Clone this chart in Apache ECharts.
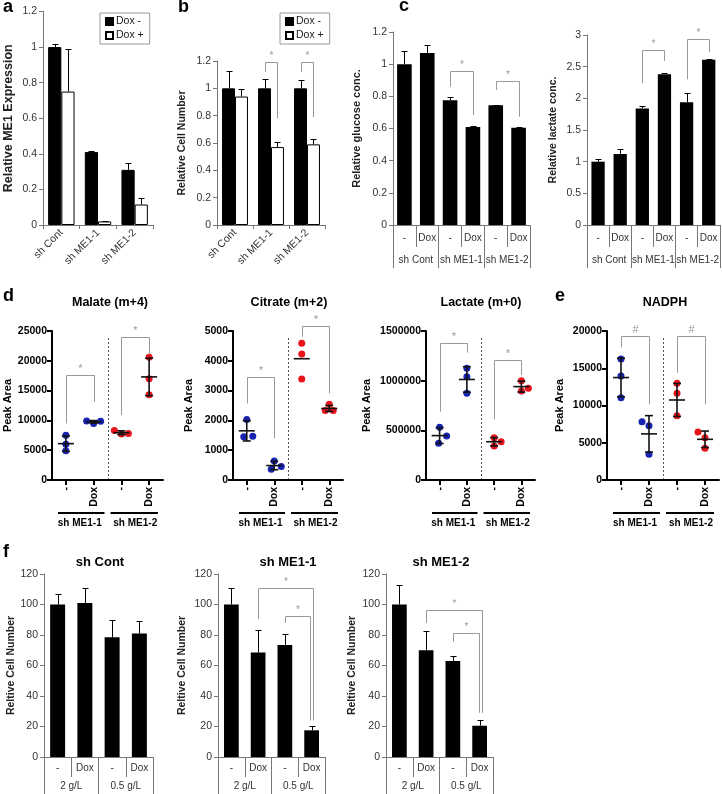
<!DOCTYPE html>
<html><head><meta charset="utf-8">
<script src="https://cdn.jsdelivr.net/npm/echarts@6/dist/echarts.min.js"></script>
<style>html,body{margin:0;padding:0;background:#fff}#c{width:722px;height:794px}</style>
</head><body><div id="c"></div>
<script>
const F = "'Liberation Sans', Arial, Helvetica, sans-serif";

// ---------- DATA ----------
// Panel a
const abCats = ['sh Cont', 'sh ME1-1', 'sh ME1-2'];
const aDoxMinus = [1.0, 0.41, 0.31];
const aDoxMinusErr = [0.02, 0.005, 0.04];
const aDoxPlus = [0.75, 0.02, 0.115];
const aDoxPlusErr = [0.24, 0.005, 0.035];
// Panel b
const bDoxMinus = [1.0, 1.0, 1.0];
const bDoxMinusErr = [0.13, 0.065, 0.06];
const bDoxPlus = [0.94, 0.57, 0.59];
const bDoxPlusErr = [0.055, 0.04, 0.04];
const bBrackets = [[0.82, 1.18, 1.19, 1.12, 0.78], [1.82, 2.18, 1.19, 1.12, 0.79]];
const bBracketLabels = ['*', '*'];
// Panel c
const cTreat = ['-', 'Dox', '-', 'Dox', '-', 'Dox'];
const cGroups = ['sh Cont', 'sh ME1-1', 'sh ME1-2'];
const glucose = [1.0, 1.07, 0.775, 0.61, 0.745, 0.605];
const glucoseErr = [0.08, 0.05, 0.02, 0.004, 0.004, 0.004];
const glucoseBrackets = [[2, 3, 0.958, 0.86, 0.684], [4, 5, 0.895, 0.84, 0.673]];
const lactateConc = [1.0, 1.12, 1.84, 2.38, 1.94, 2.61];
const lactateConcErr = [0.04, 0.08, 0.04, 0.02, 0.14, 0.01];
const lactateConcBrackets = [[2, 3, 2.76, 2.24, 2.59], [4, 5, 2.93, 2.3, 2.73]];
const starLabels = ['*', '*'];
// Panels d, e
const dTreat = ['-', 'Dox', '-', 'Dox'];
const dGroups = ['sh ME1-1', 'sh ME1-2'];
const malatePts = [[7500, 6000, 4900], [9900, 9500, 9850], [8300, 7700, 7800], [20600, 17000, 14300]];
const malateMean = [6100, 9750, 7930, 17300];
const malateSD = [1300, 220, 320, 3150];
const malateBrackets = [[0, 1, 17600, 9500, 13100], [2, 3, 24000, 10900, 21200]];
const citratePts = [[2030, 1450, 1470], [640, 360, 450], [4590, 4230, 3390], [2540, 2330, 2330]];
const citrateMean = [1650, 485, 4070, 2400];
const citrateSD = [340, 140, 0, 100];
const citrateBrackets = [[0, 1, 3470, 2570, 1400], [2, 3, 5170, 4810, 2910]];
const lactatePts = [[530000, 443000, 369000], [1124000, 1040000, 873000], [426000, 386000, 342000], [1000000, 923000, 896000]];
const lactateMean = [447000, 1012000, 385000, 940000];
const lactateSD = [80000, 128000, 42000, 55000];
const lactateBrackets = [[0, 1, 1376000, 688000, 1282000], [2, 3, 1208000, 611000, 1057000]];
const nadphPts = [[16240, 13960, 11050], [7830, 7290, 3450], [12970, 11630, 8630], [6440, 5680, 4250]];
const nadphMean = [13750, 6190, 10740, 5460];
const nadphSD = [2600, 2450, 2220, 1110];
const nadphBrackets = [[0, 1, 19330, 17800, 10150], [2, 3, 19330, 14400, 10150]];
const hashLabels = ['#', '#'];
// Panel f
const fTreat = ['-', 'Dox', '-', 'Dox'];
const fConc = ['2 g/L', '0.5 g/L'];
const fCont = [100, 101, 78.5, 81];
const fContErr = [7, 9.5, 11.5, 8.5];
const fME11 = [100, 68.5, 73.5, 17.5];
const fME11Err = [10.5, 15, 7, 3];
const fME11Brackets = [[1, 3.05, 110.8, 90.5, 24], [2, 2.93, 92.4, 88, 24]];
const fME12 = [100, 70, 63, 20.5];
const fME12Err = [13, 12.5, 3.5, 4];
const fME12Brackets = [[1, 3.08, 96.4, 88, 29], [2, 2.98, 81.3, 75.4, 29]];

// ---------- STYLE (point jitter in px, colors) ----------
const malateJit = [[0,0,0],[-7,0,7],[-7,0,7],[0,0,0]];
const citrateJit = [[0,-3,6],[0,-3,7],[0,0,0],[0,-4,4]];
const lactateJit = [[0,7,-1],[0,0,0],[0,7,0],[0,7,0]];
const nadphJit = [[0,0,0],[-7,0,0],[0,0,0],[-7,0,0]];
const groupColors = ['#1622b0', '#1622b0', '#e8141c', '#e8141c'];
const gray = '#777', brk = '#999';

// ---------- BUILD ----------
const grids = [], xAxis = [], yAxis = [], series = [], graphic = [], legend = [];
function grid(l, t, w, h) { grids.push({left: l, top: t, width: w, height: h}); return grids.length - 1; }
function ax(arr, o) { arr.push(o); return arr.length - 1; }
const tickLbl = {fontFamily: F, fontSize: 10.5, color: '#333'};

function catPx(api, x) { const i = Math.round(x); return api.coord([i, 0])[0] + (x - i) * api.size([1, 0])[0]; }

function errSeries(xi, yi, vals, errs, off) {
  return {type: 'custom', xAxisIndex: xi, yAxisIndex: yi, silent: true, z: 4,
    data: vals.map((v, i) => [i, v, errs[i]]), encode: {x: 0, y: 1},
    renderItem: (p, api) => {
      const i = api.value(0), v = api.value(1), e = api.value(2);
      const bw = api.size([1, 0])[0];
      const x = Math.round(api.coord([i, 0])[0] + off * bw) + 0.5;
      const y0 = api.coord([i, v])[1], y1 = Math.round(api.coord([i, v + e])[1]) + 0.5;
      return {type: 'group', children: [
        {type: 'line', shape: {x1: x, y1: y0, x2: x, y2: y1}, style: {stroke: '#000', lineWidth: 1}},
        {type: 'line', shape: {x1: x - 3, y1: y1, x2: x + 3, y2: y1}, style: {stroke: '#000', lineWidth: 1}}]};
    }};
}
function bracketSeries(xi, yi, data, labels, color, fs) {
  return {type: 'custom', xAxisIndex: xi, yAxisIndex: yi, silent: true, z: 6, clip: false,
    data: data.map(d => [Math.round(d[0]), d[2]]), encode: {x: 0, y: 1},
    renderItem: (p, api) => {
      const d = data[p.dataIndex];
      const x1 = Math.round(catPx(api, d[0])) + 0.5, x2 = Math.round(catPx(api, d[1])) + 0.5;
      const yt = Math.round(api.coord([0, d[2]])[1]) + 0.5, y1 = api.coord([0, d[3]])[1], y2 = api.coord([0, d[4]])[1];
      return {type: 'group', children: [
        {type: 'polyline', shape: {points: [[x1, y1], [x1, yt], [x2, yt], [x2, y2]]}, style: {stroke: color, lineWidth: 1, fill: null}},
        {type: 'text', x: (x1 + x2) / 2, y: yt - 1, style: {text: labels[p.dataIndex], fill: color, fontSize: fs || 10, fontFamily: F,
          textAlign: 'center', align: 'center', textVerticalAlign: 'bottom', verticalAlign: 'bottom'}}]};
    }};
}
function meanSdSeries(xi, yi, mean, sd) {
  return {type: 'custom', xAxisIndex: xi, yAxisIndex: yi, silent: true, z: 5,
    data: mean.map((m, i) => [i, m, sd[i]]), encode: {x: 0, y: 1},
    renderItem: (p, api) => {
      const i = api.value(0), m = api.value(1), s = api.value(2);
      const c = api.coord([i, m]); const x = c[0], ym = c[1];
      const st = {stroke: '#111', lineWidth: 1.6};
      const ch = [{type: 'line', shape: {x1: x - 8, y1: ym, x2: x + 8, y2: ym}, style: st}];
      if (s > 0) {
        const yl = api.coord([i, m - s])[1], yh = api.coord([i, m + s])[1];
        ch.push({type: 'line', shape: {x1: x, y1: yl, x2: x, y2: yh}, style: st});
        ch.push({type: 'line', shape: {x1: x - 4, y1: yl, x2: x + 4, y2: yl}, style: st});
        ch.push({type: 'line', shape: {x1: x - 4, y1: yh, x2: x + 4, y2: yh}, style: st});
      }
      return {type: 'group', children: ch};
    }};
}
function pointsSeries(xi, yi, pts, jit) {
  const data = [];
  pts.forEach((g, i) => g.forEach((v, k) => data.push({value: [i, v], symbolOffset: [jit[i][k], 0], itemStyle: {color: groupColors[i], opacity: 1}})));
  return {type: 'scatter', xAxisIndex: xi, yAxisIndex: yi, silent: true, z: 3, symbolSize: 7, itemStyle: {opacity: 1}, data};
}
function barYAxis(gi, max, interval, name, gap, nameSize) {
  return ax(yAxis, {gridIndex: gi, type: 'value', min: 0, max, interval, name, nameLocation: 'middle', nameGap: gap,
    nameTextStyle: {fontFamily: F, fontSize: nameSize || 10.5, fontWeight: 'bold', color: '#222'},
    axisLine: {show: true, lineStyle: {color: gray}}, axisTick: {show: true, length: 4, lineStyle: {color: gray}},
    axisLabel: Object.assign({}, tickLbl, {margin: 6}), splitLine: {show: false}});
}
function multiX(gi, treat, groups, l1, m1, l2, m2) {
  const x1 = ax(xAxis, {gridIndex: gi, type: 'category', data: treat, axisLine: {show: true, lineStyle: {color: gray}},
    axisTick: {show: true, length: l1, interval: 0, alignWithLabel: false, lineStyle: {color: gray, width: 1}},
    axisLabel: Object.assign({}, tickLbl, {fontSize: 10, margin: m1, interval: 0})});
  ax(xAxis, {gridIndex: gi, type: 'category', data: groups, position: 'bottom', offset: l1,
    axisLine: {show: true, lineStyle: {color: 'rgba(0,0,0,0)'}},
    axisTick: {show: true, length: l2, interval: 0, alignWithLabel: false, lineStyle: {color: gray, width: 1}},
    axisLabel: Object.assign({}, tickLbl, {fontSize: 10, margin: m2, interval: 0})});
  return x1;
}
function scatterPanel(geo, max, interval, gap, title, titleX, pts, jit, mean, sd, brackets, blabels) {
  const gi = grid(geo[0], geo[1], geo[2], geo[3]);
  const xi = ax(xAxis, {gridIndex: gi, type: 'category', data: dTreat,
    axisLine: {show: true, lineStyle: {color: '#000', width: 2}},
    axisTick: {show: true, alignWithLabel: true, length: 5, lineStyle: {color: '#000', width: 2}},
    axisLabel: {rotate: 90, fontFamily: F, fontWeight: 'bold', fontSize: 10.5, color: '#000', margin: 7, interval: 0}});
  ax(xAxis, {gridIndex: gi, type: 'category', data: dGroups, position: 'bottom', offset: 33,
    axisLine: {show: false}, axisTick: {show: false},
    axisLabel: {fontFamily: F, fontWeight: 'bold', fontSize: 10, color: '#000', margin: 5, interval: 0}});
  const yi = ax(yAxis, {gridIndex: gi, type: 'value', min: 0, max, interval, name: 'Peak Area', nameLocation: 'middle', nameGap: gap,
    nameTextStyle: {fontFamily: F, fontSize: 11, fontWeight: 'bold', color: '#000'},
    axisLine: {show: true, lineStyle: {color: '#000', width: 2}},
    axisTick: {show: true, length: 5, lineStyle: {color: '#000', width: 2}},
    axisLabel: {fontFamily: F, fontWeight: 'bold', fontSize: 10.5, color: '#000', margin: 5, formatter: v => String(v)},
    splitLine: {show: false}});
  series.push(pointsSeries(xi, yi, pts, jit));
  series.push(meanSdSeries(xi, yi, mean, sd));
  series.push(bracketSeries(xi, yi, brackets, blabels, brk, 11));
  const [l, t, w, h] = geo;
  const mid = Math.round(l + w / 2) + 0.5;
  graphic.push({type: 'line', silent: true, shape: {x1: mid, y1: t + 7, x2: mid, y2: t + h}, style: {stroke: '#555', lineWidth: 1, lineDash: [2, 2]}});
  const gy = t + h + 33;
  graphic.push({type: 'line', silent: true, shape: {x1: l + 6, y1: gy, x2: l + w / 2 - 3, y2: gy}, style: {stroke: '#000', lineWidth: 2}});
  graphic.push({type: 'line', silent: true, shape: {x1: l + w / 2 + 3, y1: gy, x2: l + w - 5, y2: gy}, style: {stroke: '#000', lineWidth: 2}});
  graphic.push(txt(title, titleX, 303, 12.5));
}
function fPanel(geo, vals, errs, brackets, gap) {
  const gi = grid(geo[0], geo[1], geo[2], geo[3]);
  const xi = multiX(gi, fTreat, fConc, 20, 6, 17, 4);
  const yi = barYAxis(gi, 120, 20, 'Reltive Cell Number', gap);
  series.push({type: 'bar', xAxisIndex: xi, yAxisIndex: yi, data: vals, barWidth: '55%', itemStyle: {color: '#000'}, silent: true});
  series.push(errSeries(xi, yi, vals, errs, 0));
  if (brackets) series.push(bracketSeries(xi, yi, brackets, starLabels, brk, 10));
}
function txt(t, x, y, size, align) {
  return {type: 'text', x, y, silent: true, style: {text: t, fontFamily: F, fontSize: size, fontWeight: 'bold', fill: '#000',
    textAlign: align || 'center', align: align || 'center', textVerticalAlign: 'middle', verticalAlign: 'middle'}};
}
function abX(gi) {
  return ax(xAxis, {gridIndex: gi, type: 'category', data: abCats, axisLine: {show: true, lineStyle: {color: gray}},
    axisTick: {show: true, length: 4, interval: 0, alignWithLabel: false, lineStyle: {color: gray}},
    axisLabel: Object.assign({}, tickLbl, {rotate: 45, margin: 6, interval: 0})});
}

// Panel a
const gA = grid(43, 11.5, 110, 213.5);
const xA = abX(gA);
const yA = barYAxis(gA, 1.2, 0.2, 'Relative ME1 Expression', 28, 12.5);
series.push({type: 'bar', name: 'Dox -', xAxisIndex: xA, yAxisIndex: yA, data: aDoxMinus, barWidth: '36%', barGap: '0%', itemStyle: {color: '#000', borderColor: '#000', borderWidth: 1}});
series.push({type: 'bar', name: 'Dox +', xAxisIndex: xA, yAxisIndex: yA, data: aDoxPlus, barWidth: '36%', barGap: '0%', itemStyle: {color: '#fff', borderColor: '#000', borderWidth: 1}});
series.push(errSeries(xA, yA, aDoxMinus, aDoxMinusErr, -0.18));
series.push(errSeries(xA, yA, aDoxPlus, aDoxPlusErr, 0.18));
// Panel b
const gB = grid(217, 61, 108, 164);
const xB = abX(gB);
const yB = barYAxis(gB, 1.2, 0.2, 'Relative Cell Number', 29);
series.push({type: 'bar', name: 'Dox -', xAxisIndex: xB, yAxisIndex: yB, data: bDoxMinus, barWidth: '36%', barGap: '0%', itemStyle: {color: '#000', borderColor: '#000', borderWidth: 1}});
series.push({type: 'bar', name: 'Dox +', xAxisIndex: xB, yAxisIndex: yB, data: bDoxPlus, barWidth: '36%', barGap: '0%', itemStyle: {color: '#fff', borderColor: '#000', borderWidth: 1}});
series.push(errSeries(xB, yB, bDoxMinus, bDoxMinusErr, -0.18));
series.push(errSeries(xB, yB, bDoxPlus, bDoxPlusErr, 0.18));
series.push(bracketSeries(xB, yB, bBrackets, bBracketLabels, brk, 10));
[100, 280].forEach(l => legend.push({left: l, top: 13, orient: 'vertical', data: ['Dox -', 'Dox +'], icon: 'rect', itemWidth: 7, itemHeight: 7,
  itemGap: 3, padding: [3, 6, 3, 5], borderColor: '#999', borderWidth: 1, selectedMode: false,
  textStyle: {fontFamily: F, fontSize: 10.5, color: '#222', padding: [0, 0, 0, -2]}}));
// Panel c
const gC1 = grid(393, 32, 137, 193);
const xC1 = multiX(gC1, cTreat, cGroups, 22, 8, 21, 8);
const yC1 = barYAxis(gC1, 1.2, 0.2, 'Relative glucose conc.', 31, 11);
series.push({type: 'bar', xAxisIndex: xC1, yAxisIndex: yC1, data: glucose, barWidth: '64%', itemStyle: {color: '#000'}, silent: true});
series.push(errSeries(xC1, yC1, glucose, glucoseErr, 0));
series.push(bracketSeries(xC1, yC1, glucoseBrackets, starLabels, brk, 10));
const gC2 = grid(587, 35, 133, 190);
const xC2 = multiX(gC2, cTreat, cGroups, 22, 8, 21, 8);
const yC2 = barYAxis(gC2, 3, 0.5, 'Relative lactate conc.', 28);
series.push({type: 'bar', xAxisIndex: xC2, yAxisIndex: yC2, data: lactateConc, barWidth: '60%', itemStyle: {color: '#000'}, silent: true});
series.push(errSeries(xC2, yC2, lactateConc, lactateConcErr, 0));
series.push(bracketSeries(xC2, yC2, lactateConcBrackets, starLabels, brk, 10));
// Panels d, e
scatterPanel([52, 331, 111, 149], 25000, 5000, 39, 'Malate (m+4)', 110, malatePts, malateJit, malateMean, malateSD, malateBrackets, starLabels);
scatterPanel([233, 331, 110, 149], 5000, 1000, 39, 'Citrate (m+2)', 289, citratePts, citrateJit, citrateMean, citrateSD, citrateBrackets, starLabels);
scatterPanel([426, 331, 109, 149], 1500000, 500000, 54, 'Lactate (m+0)', 481, lactatePts, lactateJit, lactateMean, lactateSD, lactateBrackets, starLabels);
scatterPanel([607, 331, 112, 149], 20000, 5000, 42, 'NADPH', 665, nadphPts, nadphJit, nadphMean, nadphSD, nadphBrackets, hashLabels);
// Panel f
fPanel([44, 574, 109, 183], fCont, fContErr, null, 25);
fPanel([218, 574, 107, 183], fME11, fME11Err, fME11Brackets, 30);
fPanel([386, 574, 107, 183], fME12, fME12Err, fME12Brackets, 28);
graphic.push(txt('sh Cont', 100, 562, 13));
graphic.push(txt('sh ME1-1', 288, 562, 13));
graphic.push(txt('sh ME1-2', 441, 562, 13));
// panel letters
[['a', 3, 7], ['b', 178, 7], ['c', 399, 6], ['d', 3, 296], ['e', 555, 296], ['f', 3, 552]].forEach(d => graphic.push(txt(d[0], d[1], d[2], 18, 'left')));

const chart = echarts.init(document.getElementById('c'));
chart.setOption({animation: false, textStyle: {fontFamily: F}, grid: grids, xAxis, yAxis, series, legend, graphic});
</script></body></html>
